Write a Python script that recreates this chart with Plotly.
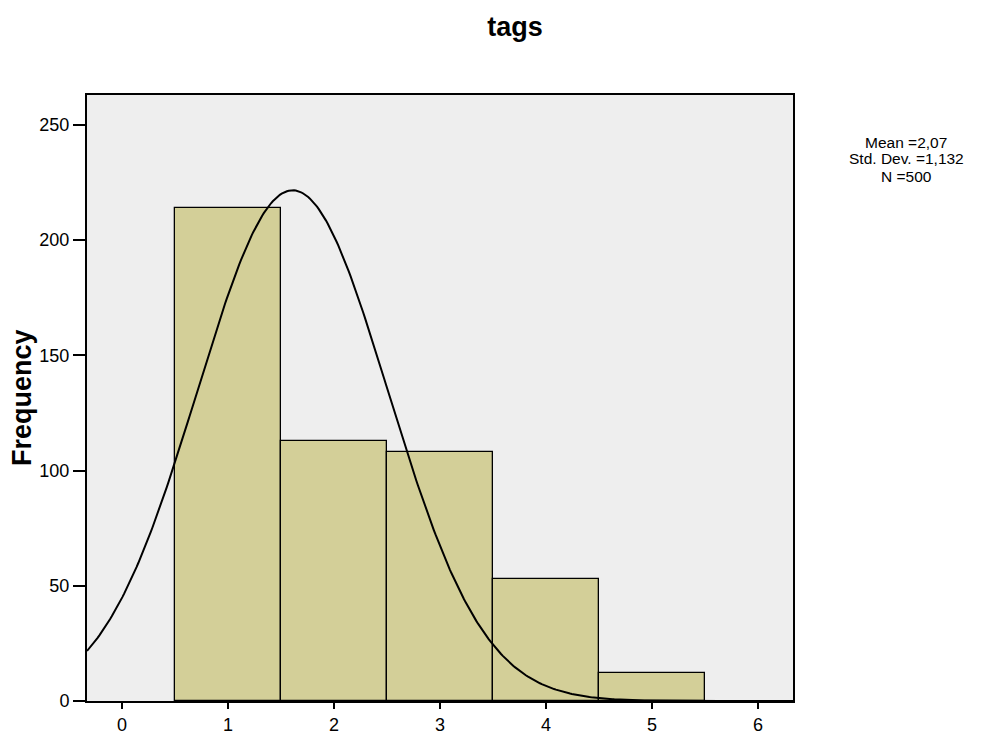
import numpy as np
import plotly.graph_objects as go

categories = [1, 2, 3, 4, 5]
frequencies = [214, 113, 108, 53, 12]
x_tick_vals = [0, 1, 2, 3, 4, 5, 6]
y_tick_vals = [0, 50, 100, 150, 200, 250]

# parameters of the drawn normal curve
curve_mean = 1.61
curve_sd = 0.90
curve_n = 500
stats_lines = ["Mean =2,07", "Std. Dev. =1,132", "N =500"]

x_range = [-0.33, 6.33]
y_range = [0, 263]

xs = np.linspace(x_range[0], x_range[1], 400)
ys = curve_n / (curve_sd * np.sqrt(2 * np.pi)) * np.exp(-0.5 * ((xs - curve_mean) / curve_sd) ** 2)

fig = go.Figure()
fig.add_trace(go.Bar(
    x=categories, y=frequencies, width=1,
    marker=dict(color="#D3CF98", line=dict(color="black", width=1.3)),
    showlegend=False, hoverinfo="x+y",
))
fig.add_trace(go.Scatter(
    x=xs, y=ys, mode="lines",
    line=dict(color="black", width=2), showlegend=False,
))

font_family = "Liberation Sans, Arial, sans-serif"
fig.update_layout(
    width=995, height=736,
    margin=dict(l=87, r=202, t=95, b=35, autoexpand=False),
    paper_bgcolor="white", plot_bgcolor="#EEEEEE",
    font=dict(family=font_family, color="black", size=18),
    bargap=0,
    title=dict(text="<b>tags</b>", x=515 / 995, xanchor="center",
               y=1 - 27 / 736, yanchor="middle", yref="container",
               font=dict(size=27, family=font_family)),
)
fig.update_xaxes(
    range=x_range, tickvals=x_tick_vals, ticks="outside", ticklen=6,
    tickwidth=2, tickcolor="black", showgrid=False, zeroline=False,
    showline=True, linecolor="black", linewidth=2, mirror=True,
    tickfont=dict(size=18), automargin=False, ticklabelstandoff=0,
)
fig.update_yaxes(
    range=y_range, tickvals=y_tick_vals, ticks="outside", ticklen=12,
    tickwidth=2, tickcolor="black", showgrid=False, zeroline=False,
    showline=True, linecolor="black", linewidth=2, mirror=True,
    tickfont=dict(size=18), automargin=False,
)
fig.add_annotation(
    text="<b>Frequency</b>", xref="paper", yref="paper",
    x=-65 / 706, y=0.5, xanchor="center", yanchor="middle",
    textangle=-90, showarrow=False, font=dict(size=27),
)
for i, line in enumerate(stats_lines):
    fig.add_annotation(
        text=line, xref="paper", yref="paper",
        x=(906 - 87) / 706, y=(701 - (142 + 17 * i)) / 606,
        xanchor="center", yanchor="middle",
        showarrow=False, font=dict(size=15.5),
    )

fig.write_html("out.html")
